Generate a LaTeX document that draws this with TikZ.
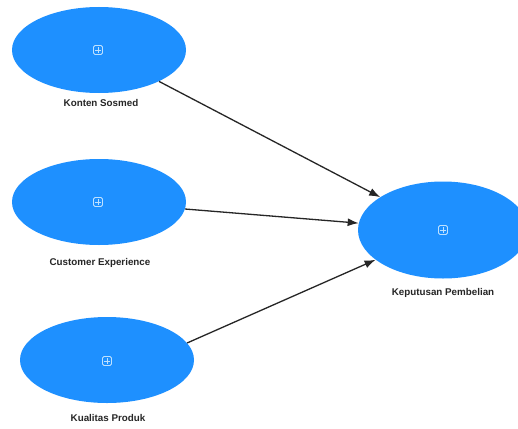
\documentclass[tikz,border=0pt]{standalone}
\usepackage{fontspec}
\setmainfont{Liberation Sans}
\usetikzlibrary{shapes.geometric,arrows.meta}
\definecolor{latent}{RGB}{30,144,255}
\definecolor{iconline}{RGB}{190,225,255}
\tikzset{
  construct/.style={ellipse, fill=latent, draw=none, inner sep=0pt,
    minimum width=174pt, minimum height=86pt},
  caption/.style={font=\bfseries\fontsize{9.8}{11}\selectfont, text=black!85, inner sep=1pt},
  expander/.style={draw=iconline, line width=0.8pt, rounded corners=1.5pt,
    minimum size=9pt, inner sep=0pt,
    path picture={
      \draw[iconline, line width=0.7pt]
        ([xshift=-3pt]path picture bounding box.center) -- ([xshift=3pt]path picture bounding box.center)
        ([yshift=-3pt]path picture bounding box.center) -- ([yshift=3pt]path picture bounding box.center);
    }},
  path/.style={draw=black!85, line width=1.3pt, -{Latex[length=11pt,width=8pt]}}
}
\begin{document}
\begin{tikzpicture}[x=1pt,y=-1pt]
  \useasboundingbox (0,0) rectangle (518,428);
  \fill[white] (0,0) rectangle (518,428);

  % exogenous constructs
  \node[construct] (ks) at (99,50) {};
  \node[expander] (ksi) at (98,50) {};
  \node[caption] (ksl) at (101,103) {Konten Sosmed};

  \node[construct] (ce) at (99,202) {};
  \node[expander] (cei) at (98,202) {};
  \node[caption] (cel) at (100,263) {Customer Experience};

  \node[construct] (kp) at (107,360) {};
  \node[expander] (kpi) at (107,361) {};
  \node[caption] (kpl) at (108,418) {Kualitas Produk};

  % endogenous construct
  \node[construct, minimum width=170pt, minimum height=97pt] (kb) at (443,230) {};
  \node[expander] (kbi) at (443,230) {};
  \node[caption] (kbl) at (443,293) {Keputusan Pembelian};

  % structural paths
  \draw[path] (ks) -- (kb);
  \draw[path] (ce) -- (kb);
  \draw[path] (kp.12) -- (kb);
\end{tikzpicture}
\end{document}
